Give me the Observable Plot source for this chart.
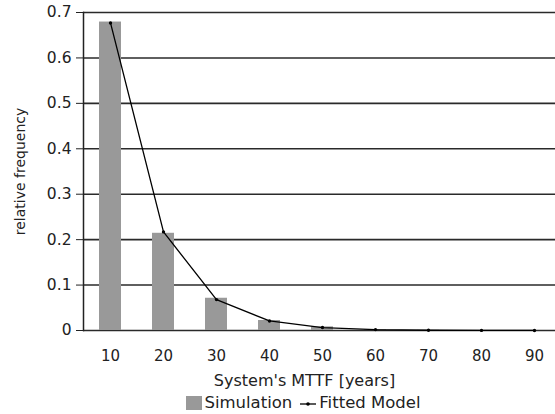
<!DOCTYPE html>
<html><head><meta charset="utf-8">
<script src="https://cdn.jsdelivr.net/npm/d3@7"></script>
<script src="https://cdn.jsdelivr.net/npm/@observablehq/plot@0.6"></script>
<style>
body{margin:0;background:#fff;font-family:"DejaVu Sans",Verdana,sans-serif;color:#222;}
#wrap{position:relative;width:555px;height:414px;overflow:hidden;background:#fff}
#chart{position:absolute;left:0;top:0}
#xtitle{position:absolute;top:371px;left:0;width:609px;text-align:center;font-size:16px;line-height:20px;}
#legend{position:absolute;top:393px;left:0;width:607px;text-align:center;font-size:16.5px;line-height:20px;white-space:nowrap}
.sw{display:inline-block;width:16px;height:14px;background:#999;vertical-align:-2px;margin-right:2px}
.ln{display:inline-block;vertical-align:middle;margin:0 2px 0 7px}
</style></head><body>
<div id="wrap"><div id="chart"></div><div id="xtitle">System's MTTF [years]</div>
<div id="legend"><span class="sw"></span>Simulation<svg class="ln" width="18" height="10"><line x1="1" y1="5" x2="17" y2="5" stroke="black" stroke-width="1.3"/><circle cx="9" cy="5" r="1.8" fill="black"/></svg>Fitted Model</div></div>
<script>
const years = [10, 20, 30, 40, 50, 60, 70, 80, 90];
const simulation = [0.679, 0.214, 0.071, 0.022, 0.008, 0.002, 0.0005, 0, 0];
const fitted = [0.677, 0.217, 0.068, 0.021, 0.0065, 0.002, 0.0006, 0.0002, 0.00006];
const yTicks = [0, 0.1, 0.2, 0.3, 0.4, 0.5, 0.6, 0.7];

const data = years.map((y, i) => ({year: String(y), sim: simulation[i], fit: fitted[i]}));

const chart = Plot.plot({
  width: 555, height: 370,
  marginLeft: 83, marginRight: -5, marginTop: 12, marginBottom: 40,
  style: {fontFamily: "DejaVu Sans, Verdana, sans-serif", fontSize: "15px", color: "#222", background: "white"},
  x: {type: "band", domain: years.map(String), paddingInner: 0.585, paddingOuter: 0.2925, align: 0.5},
  y: {domain: [0, 0.7]},
  marks: [
    Plot.ruleY(yTicks, {stroke: "#2a2a2a", strokeWidth: 1.6}),
    Plot.barY(data, {x: "year", y: "sim", fill: "#999"}),
    Plot.line(data, {x: "year", y: "fit", stroke: "black", strokeWidth: 1.3}),
    Plot.dot(data, {x: "year", y: "fit", r: 1.7, fill: "black"}),
    Plot.axisY({ticks: yTicks, tickSize: 7, tickPadding: 5, tickFormat: d => d === 0 ? "0" : d.toFixed(1), label: null, fontSize: 15.5}),
    Plot.axisY({ticks: [], tickSize: 0, label: "relative frequency", labelArrow: "none", labelAnchor: "center", labelOffset: 68, fontSize: 14}),
    Plot.axisX({tickSize: 0, tickPadding: 20, label: null, fontSize: 15}),
    Plot.frame({anchor: "left", stroke: "#222", strokeWidth: 1.5})
  ]
});
document.getElementById("chart").appendChild(chart);
</script>
</body></html>
